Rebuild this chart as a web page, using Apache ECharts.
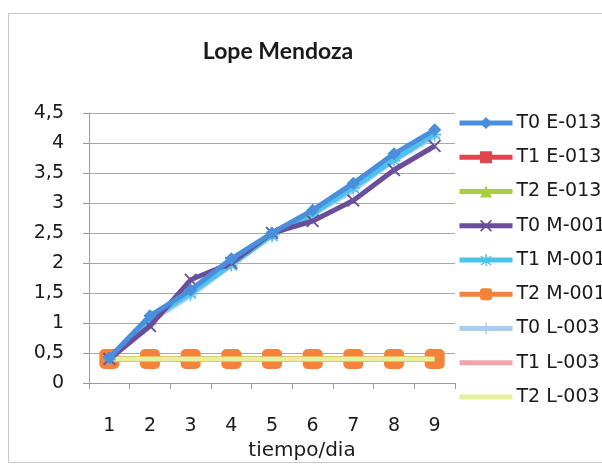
<!DOCTYPE html>
<html><head><meta charset="utf-8">
<script src="https://cdn.jsdelivr.net/npm/echarts@6/dist/echarts.min.js"></script>
<style>html,body{margin:0;padding:0;background:#fff}#c{width:602px;height:466px}</style>
</head><body><div id="c"></div>
<script>
const categories = ['1','2','3','4','5','6','7','8','9'];
const yTicks = [0,0.5,1,1.5,2,2.5,3,3.5,4,4.5];
const t0E = [0.42,1.12,1.55,2.07,2.5,2.88,3.33,3.82,4.22];
const t1E = [0.4,0.4,0.4,0.4,0.4,0.4,0.4,0.4,0.4];
const t2E = [0.4,0.4,0.4,0.4,0.4,0.4,0.4,0.4,0.4];
const t0M = [0.4,0.95,1.72,2.0,2.5,2.7,3.04,3.55,3.95];
const t1M = [0.4,1.06,1.5,1.97,2.46,2.82,3.26,3.72,4.15];
const t2M = [0.4,0.4,0.4,0.4,0.4,0.4,0.4,0.4,0.4];
const t0L = [0.4,1.02,1.45,1.95,2.45,2.8,3.2,3.7,4.1];
const t1L = [0.4,0.4,0.4,0.4,0.4,0.4,0.4,0.4,0.4];
const t2L = [0.4,0.4,0.4,0.4,0.4,0.4,0.4,0.4,0.4];

const crossPath = 'path://M0,1L1,0L5,4L9,0L10,1L6,5L10,9L9,10L5,6L1,10L0,9L4,5Z';
const starPath = 'path://M4.4,0H5.6V3.9L8.9,1.4L9.6,2.3L6.3,4.9H10V6.1H6.3L9.6,8.7L8.9,9.6L5.6,7.1V10H4.4V7.1L1.1,9.6L0.4,8.7L3.7,6.1H0V4.9H3.7L0.4,2.3L1.1,1.4L4.4,3.9Z';
const plusPath = 'path://M4.4,0H5.6V4.4H10V5.6H5.6V10H4.4V5.6H0V4.4H4.4Z';
const FONT = '"DejaVu Sans", sans-serif';

function mk(name, data, color, symbol, size, width, z) {
  return {
    name, type: 'line', data, symbol: symbol || 'none', symbolSize: size || 0,
    showSymbol: !!symbol, z: z,
    lineStyle: {color, width: width || 5},
    itemStyle: {color, borderWidth: 0},
    emphasis: {disabled: true}, animation: false
  };
}

const names = ['T0 E-0138','T1 E-0138','T2 E-0138','T0 M-001','T1 M-001','T2 M-001','T0 L-003','T1 L-003','T2 L-003'];

const chart = echarts.init(document.getElementById('c'));
chart.setOption({
  animation: false,
  textStyle: {fontFamily: FONT},
  title: {
    text: 'Lope Mendoza', left: 273, top: 35, textAlign: 'center',
    textStyle: {fontSize: 23, fontWeight: 'bold', color: '#1a1a1a', fontFamily: 'Lato, sans-serif'}
  },
  graphic: [{
    type: 'rect', shape: {x: 8.5, y: 13.5, width: 600, height: 449},
    style: {fill: 'none', stroke: '#c8c8c8', lineWidth: 1}, z: -1
  }],
  legend: {
    orient: 'vertical', left: 452, top: 108, itemWidth: 53, itemHeight: 15, itemGap: 14.25,
    data: names.map(n => (n === 'T1 L-003' || n === 'T2 L-003') ? {name: n, itemStyle: {opacity: 0}} : {name: n}),
    lineStyle: {width: 5},
    textStyle: {fontSize: 19, color: '#1a1a1a', lineHeight: 20, fontFamily: FONT, padding: [0,0,0,-1]},
    selectedMode: false
  },
  grid: {left: 89, right: 147, top: 113, bottom: 82},
  xAxis: {
    type: 'category', data: categories, boundaryGap: true,
    name: 'tiempo/dia', nameLocation: 'middle', nameGap: 58,
    nameTextStyle: {fontSize: 20, color: '#1a1a1a', padding: [0,0,0,60], fontFamily: FONT},
    axisLine: {lineStyle: {color: '#9a9a9a', width: 1}},
    axisTick: {show: true, alignWithLabel: false, length: 6, lineStyle: {color: '#9a9a9a'}},
    axisLabel: {fontSize: 19, color: '#1a1a1a', margin: 34, fontFamily: FONT}
  },
  yAxis: {
    type: 'value', min: 0, max: 4.5, interval: 0.5,
    axisLine: {show: true, lineStyle: {color: '#9a9a9a'}},
    axisTick: {show: true, length: 6, lineStyle: {color: '#9a9a9a'}},
    splitLine: {lineStyle: {color: '#a8a8a8', width: 1}},
    axisLabel: {
      fontSize: 19, color: '#1a1a1a', margin: 25, fontFamily: FONT,
      formatter: v => yTicks.includes(v) ? String(v).replace('.', ',') : ''
    }
  },
  series: [
    mk('T0 E-0138', t0E, '#4a8fdc', 'diamond', 13, 5, 10),
    mk('T1 E-0138', t1E, '#e2444e', 'rect', 14, 5, 2),
    mk('T2 E-0138', t2E, '#a6cf3a', 'triangle', 13, 5, 3),
    mk('T0 M-001', t0M, '#6a4e9c', crossPath, 13, 5, 9),
    mk('T1 M-001', t1M, '#4cc3ec', starPath, 13, 5, 8),
    mk('T2 M-001', t2M, '#f5823a', 'roundRect', [20,20], 5, 4),
    mk('T0 L-003', t0L, '#a9ccf2', plusPath, 11, 4, 7),
    mk('T1 L-003', t1L, '#f3a3ad', null, 0, 3, 5),
    mk('T2 L-003', t2L, '#e7f09c', null, 0, 5, 6)
  ]
});
</script></body></html>
